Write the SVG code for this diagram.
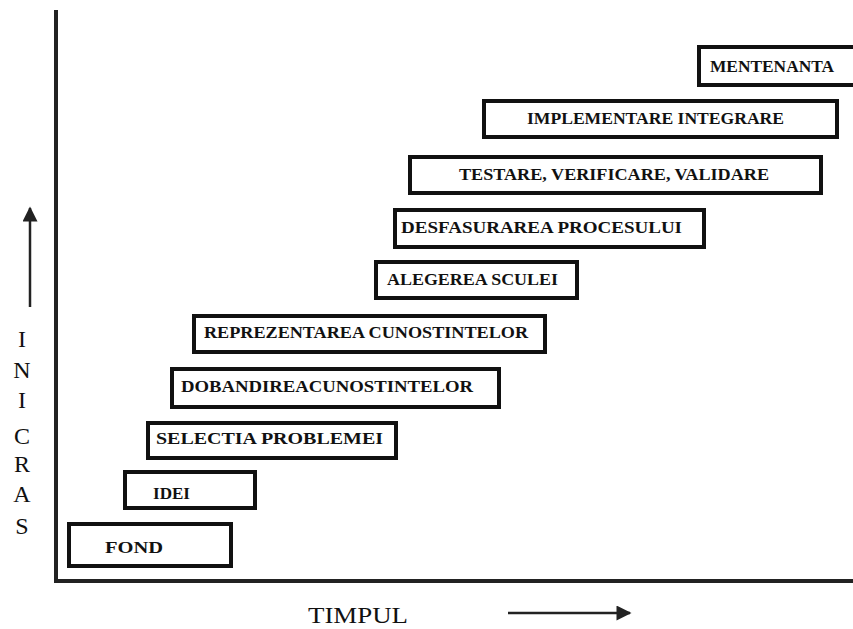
<svg xmlns="http://www.w3.org/2000/svg" width="853" height="629" viewBox="0 0 853 629">
  <style>
    .box rect { fill: #ffffff; stroke: #111111; stroke-width: 4; }
    .box text { font-family: "Liberation Serif", "Times New Roman", serif; font-weight: bold; font-size: 16px; fill: #111111; }
    .axis { stroke: #222222; stroke-width: 4; fill: none; }
    .lbl { font-family: "Liberation Serif", "Times New Roman", serif; fill: #111111; }
    .arr { stroke: #222222; stroke-width: 2.5; fill: none; }
  </style>
  <defs>
    <marker id="head" viewBox="0 0 10 10" refX="9" refY="5" markerWidth="9" markerHeight="6" markerUnits="strokeWidth" orient="auto">
      <path d="M0,0 L10,5 L0,10 Z" fill="#222222"/>
    </marker>
  </defs>
  <rect width="853" height="629" fill="#ffffff"/>

  <!-- axes and direction arrows -->
  <g id="connectors">
    <path class="axis" d="M56,10 V581 H853"/>
    <line class="arr" x1="30" y1="307" x2="30" y2="208" marker-end="url(#head)"/>
    <line class="arr" x1="508" y1="613" x2="630" y2="613" marker-end="url(#head)"/>
  </g>

  <!-- axis labels -->
  <g id="axis-y-label" class="lbl" font-size="24" text-anchor="middle">
    <text x="22" y="347">I</text>
    <text x="22" y="378">N</text>
    <text x="22" y="408">I</text>
    <text x="22" y="444">C</text>
    <text x="22" y="472">R</text>
    <text x="22" y="502">A</text>
    <text x="22" y="534">S</text>
  </g>
  <g id="axis-x-label" class="lbl">
    <text x="308" y="623" font-size="24" textLength="100" lengthAdjust="spacingAndGlyphs">TIMPUL</text>
  </g>

  <!-- phases, bottom to top -->
  <g id="fond" class="box">
    <rect x="69" y="524" width="162" height="42"/>
    <text x="105" y="553" textLength="58" lengthAdjust="spacingAndGlyphs">FOND</text>
  </g>
  <g id="idei" class="box">
    <rect x="125" y="472" width="130" height="36"/>
    <text x="153" y="499" textLength="37" lengthAdjust="spacingAndGlyphs">IDEI</text>
  </g>
  <g id="selectia-problemei" class="box">
    <rect x="148" y="423" width="248" height="35"/>
    <text x="156" y="444" textLength="227" lengthAdjust="spacingAndGlyphs">SELECTIA PROBLEMEI</text>
  </g>
  <g id="dobandirea-cunostintelor" class="box">
    <rect x="172" y="369" width="327" height="38"/>
    <text x="181" y="392" textLength="292" lengthAdjust="spacingAndGlyphs">DOBANDIREACUNOSTINTELOR</text>
  </g>
  <g id="reprezentarea-cunostintelor" class="box">
    <rect x="194" y="316" width="351" height="36"/>
    <text x="204" y="338" textLength="324" lengthAdjust="spacingAndGlyphs">REPREZENTAREA CUNOSTINTELOR</text>
  </g>
  <g id="alegerea-sculei" class="box">
    <rect x="376" y="262" width="201" height="36"/>
    <text x="387" y="285" textLength="171" lengthAdjust="spacingAndGlyphs">ALEGEREA SCULEI</text>
  </g>
  <g id="desfasurarea-procesului" class="box">
    <rect x="395" y="210" width="309" height="37"/>
    <text x="401" y="233" textLength="281" lengthAdjust="spacingAndGlyphs">DESFASURAREA PROCESULUI</text>
  </g>
  <g id="testare-verificare-validare" class="box">
    <rect x="410" y="157" width="411" height="36"/>
    <text x="459" y="180" textLength="310" lengthAdjust="spacingAndGlyphs">TESTARE, VERIFICARE, VALIDARE</text>
  </g>
  <g id="implementare-integrare" class="box">
    <rect x="484" y="101" width="353" height="36"/>
    <text x="527" y="124" textLength="257" lengthAdjust="spacingAndGlyphs">IMPLEMENTARE INTEGRARE</text>
  </g>
  <g id="mentenanta" class="box">
    <rect x="699" y="47" width="160" height="38"/>
    <text x="710" y="72" textLength="124" lengthAdjust="spacingAndGlyphs">MENTENANTA</text>
  </g>
</svg>
